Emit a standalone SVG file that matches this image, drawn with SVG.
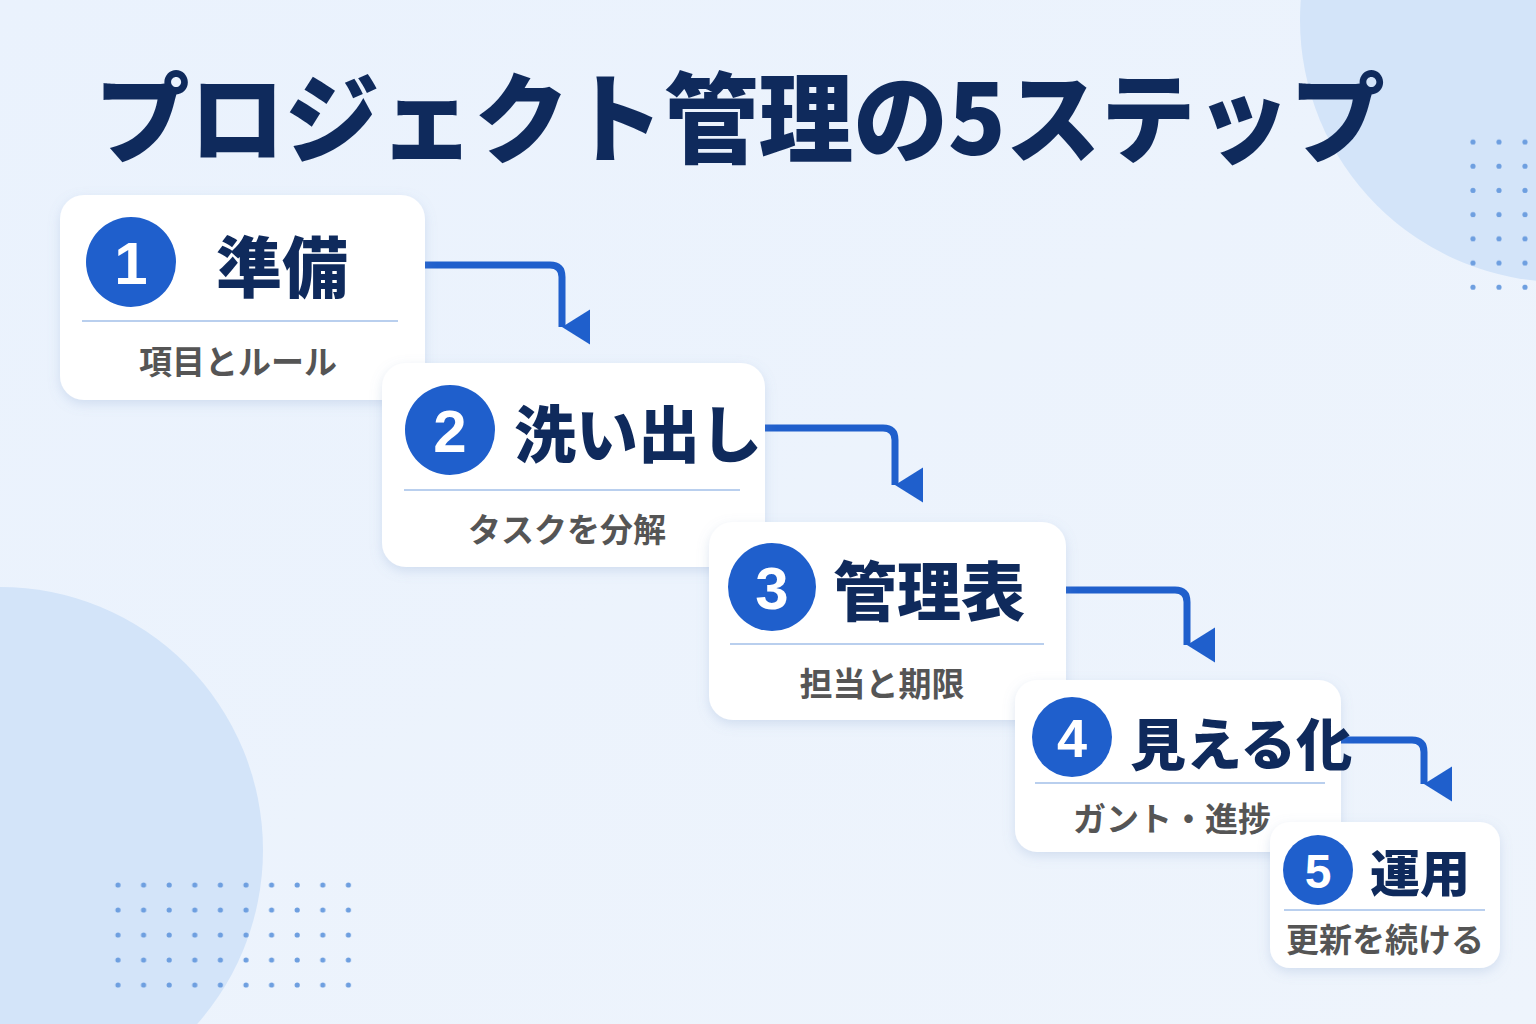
<svg xmlns="http://www.w3.org/2000/svg" width="1536" height="1024" viewBox="0 0 1536 1024">
<defs>
<linearGradient id="bg" x1="0" y1="0" x2="1" y2="1"><stop offset="0" stop-color="#EAF2FD"/><stop offset="1" stop-color="#EEF4FC"/></linearGradient>
<filter id="sh" x="-10%" y="-10%" width="120%" height="130%"><feDropShadow dx="0" dy="4" stdDeviation="6" flood-color="#7A9CC8" flood-opacity="0.25"/></filter>
<pattern id="dotsR" x="1461" y="130" width="26" height="24.2" patternUnits="userSpaceOnUse"><circle cx="12" cy="12" r="2.6" fill="#6E9FE0"/></pattern>
<pattern id="dotsL" x="105" y="873" width="25.6" height="25" patternUnits="userSpaceOnUse"><circle cx="13" cy="12" r="2.6" fill="#6E9FE0"/></pattern>
<marker id="ah" viewBox="0 0 10 10" refX="5" refY="8" markerWidth="6.5" markerHeight="5" markerUnits="strokeWidth" orient="auto"><path d="M0,0 L10,0 L5,8 Z" fill="#1F5FCC"/></marker>
</defs>
<style>
.card{fill:#fff;filter:url(#sh)}
.num{fill:#1F5FCC}
.numt{fill:#fff;font-family:"Liberation Sans",sans-serif;font-weight:bold;text-anchor:middle}
.tt{fill:#0F2A5C;font-family:"Noto Sans CJK JP",sans-serif;font-weight:900}
.sub{fill:#555;font-family:"Noto Sans CJK JP",sans-serif;font-weight:bold;text-anchor:middle;font-size:33px}
.div{stroke:#B9CFEE;stroke-width:2}
.arr{fill:none;stroke:#1F5FCC;stroke-width:7;stroke-linejoin:round}
</style>
<rect width="1536" height="1024" fill="url(#bg)"/>
<circle cx="1562" cy="20" r="262" fill="#D3E4F9"/>
<circle cx="0" cy="850" r="263" fill="#D3E4F9"/>
<rect x="1461" y="130" width="78" height="170" fill="url(#dotsR)"/>
<rect x="105" y="873" width="256" height="125" fill="url(#dotsL)"/>
<text x="95" y="155" font-family="Noto Sans CJK JP,sans-serif" font-weight="900" font-size="98" fill="#0F2A5C" textLength="1290" lengthAdjust="spacingAndGlyphs">プロジェクト管理の5ステップ</text>
<g id="connectors">
<path class="arr" d="M425,265 H550 Q562,265 562,277 V327" marker-end="url(#ah)"/>
<path class="arr" d="M765,428 H883 Q895,428 895,440 V485" marker-end="url(#ah)"/>
<path class="arr" d="M1066,590 H1175 Q1187,590 1187,602 V645" marker-end="url(#ah)"/>
<path class="arr" d="M1341,740 H1412 Q1424,740 1424,752 V784" marker-end="url(#ah)"/>
</g>
<g id="step1">
<rect class="card" x="60" y="195" width="365" height="205" rx="24"/>
<circle class="num" cx="131" cy="262" r="45"/><text class="numt" x="131" y="284" font-size="60">1</text>
<text class="tt" x="216" y="292" font-size="66">準備</text>
<line class="div" x1="82" y1="321" x2="398" y2="321"/>
<text class="sub" x="238" y="374">項目とルール</text>
</g>
<g id="step2">
<rect class="card" x="382" y="363" width="383" height="204" rx="24"/>
<circle class="num" cx="450" cy="430" r="45"/><text class="numt" x="450" y="452" font-size="60">2</text>
<text class="tt" x="514" y="458" font-size="62">洗い出し</text>
<line class="div" x1="404" y1="490" x2="740" y2="490"/>
<text class="sub" x="567" y="542">タスクを分解</text>
</g>
<g id="step3">
<rect class="card" x="709" y="522" width="357" height="198" rx="24"/>
<circle class="num" cx="772" cy="587" r="44"/><text class="numt" x="772" y="609" font-size="60">3</text>
<text class="tt" x="833" y="615" font-size="64">管理表</text>
<line class="div" x1="730" y1="644" x2="1044" y2="644"/>
<text class="sub" x="882" y="696">担当と期限</text>
</g>
<g id="step4">
<rect class="card" x="1015" y="680" width="326" height="172" rx="22"/>
<circle class="num" cx="1072" cy="737" r="40"/><text class="numt" x="1072" y="757" font-size="54">4</text>
<text class="tt" x="1130" y="765" font-size="56">見える化</text>
<line class="div" x1="1035" y1="783" x2="1325" y2="783"/>
<text class="sub" x="1172" y="831" font-size="31">ガント・進捗</text>
</g>
<g id="step5">
<rect class="card" x="1270" y="822" width="230" height="146" rx="20"/>
<circle class="num" cx="1318" cy="870" r="35"/><text class="numt" x="1318" y="888" font-size="48">5</text>
<text class="tt" x="1370" y="892" font-size="50">運用</text>
<line class="div" x1="1284" y1="910" x2="1485" y2="910"/>
<text class="sub" x="1385" y="952" font-size="29">更新を続ける</text>
</g>
</svg>
